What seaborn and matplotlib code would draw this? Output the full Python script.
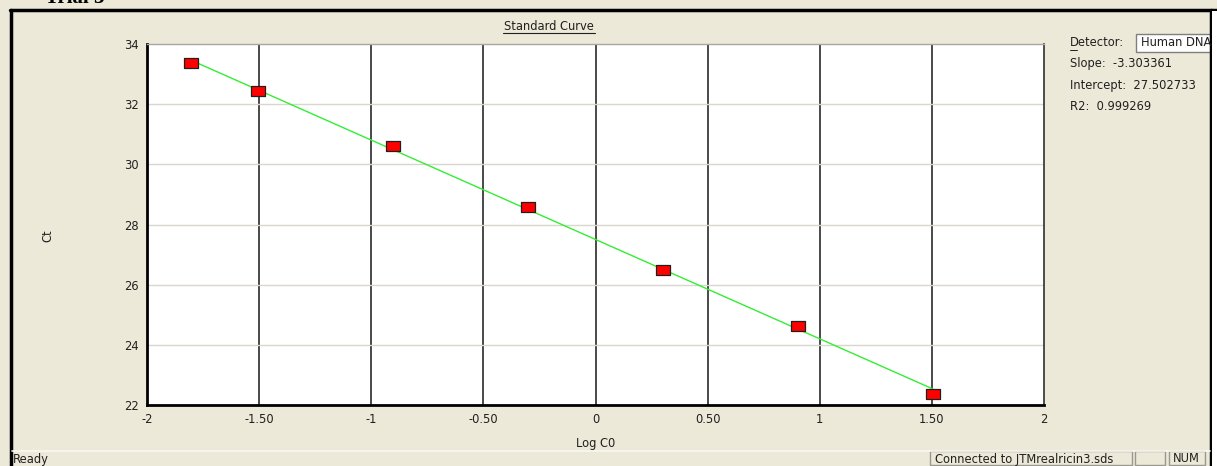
import matplotlib
matplotlib.use("Agg")
import matplotlib.pyplot as plt
import seaborn as sns
import numpy as np
import pandas as pd
from matplotlib.patches import Rectangle
from matplotlib.lines import Line2D

# ---- data ----
log_c0 = [-1.806, -1.505, -0.903, -0.301, 0.301, 0.903, 1.505]
ct_values = [33.37, 32.44, 30.61, 28.58, 26.49, 24.62, 22.37]
slope = -3.303361
intercept = 27.502733
r2 = 0.999269
x_ticks = [-2, -1.5, -1, -0.5, 0, 0.5, 1, 1.5, 2]
x_tick_labels = ["-2", "-1.50", "-1", "-0.50", "0", "0.50", "1", "1.50", "2"]
y_ticks = [22, 24, 26, 28, 30, 32, 34]

BG = "#ECE9D8"
FS = 8.3
sns.set_theme(style="white")
plt.rcParams['font.family'] = ['DejaVu Sans']

fig = plt.figure(figsize=(12.17, 4.66), dpi=100, facecolor=BG)
ax = fig.add_axes([147/1217, 1-405/466, (1044-147)/1217, (405-44)/466])
ax.set_facecolor("white")

pts = pd.DataFrame({"x": log_c0, "y": ct_values})
fit_x = [min(log_c0), max(log_c0)]
fit = pd.DataFrame({"x": fit_x, "y": [slope * v + intercept for v in fit_x]})

# grid
for v in x_ticks[1:-1]:
    ax.axvline(v, color="#3a3a3a", lw=1.3, zorder=1)
for v in y_ticks[1:-1]:
    ax.axhline(v, color="#d9d6cd", lw=1.0, zorder=1)

sns.lineplot(data=fit, x="x", y="y", ax=ax, color="#33ee33", lw=1.0, zorder=3)
rect = [(-1.5, -1), (1.5, -1), (1.5, 1), (-1.5, 1), (-1.5, -1)]
sns.scatterplot(data=pts, x="x", y="y", ax=ax, marker=rect, s=110,
                color="#ff0000", edgecolor="#202020", linewidth=0.9, zorder=4)

ax.set_xlim(-2, 2)
ax.set_ylim(22, 34)
ax.set_xticks(x_ticks)
ax.set_xticklabels(x_tick_labels)
ax.set_yticks(y_ticks)
ax.tick_params(length=0, labelsize=FS, colors="#202020", pad=6)
ax.set_xlabel("")
ax.set_ylabel("")
ax.grid(False)
for side, sp in ax.spines.items():
    sp.set_visible(True)
ax.spines["left"].set_color("black"); ax.spines["left"].set_linewidth(2)
ax.spines["bottom"].set_color("black"); ax.spines["bottom"].set_linewidth(2)
ax.spines["top"].set_color("#a8a69e"); ax.spines["top"].set_linewidth(1)
ax.spines["right"].set_color("#303030"); ax.spines["right"].set_linewidth(1.2)

def px(x, y):
    return x / 1217, 1 - y / 466

# axis labels
fig.text(*px(596, 443), "Log C0", fontsize=FS, ha="center", va="center", color="#202020")
fig.text(*px(48, 236), "Ct", fontsize=FS, rotation=90, ha="center", va="center", color="#202020")

# title underlined
fig.text(*px(549, 27), "Standard Curve", fontsize=FS, ha="center", va="center", color="#202020")
fig.add_artist(Line2D([503/1217, 595/1217], [1-33/466, 1-33/466], color="#202020", lw=0.8))

# partially visible heading above frame
fig.text(*px(45, -2), "Trial 3", fontsize=15, fontweight="bold", family="Liberation Serif",
         ha="left", va="center", color="black")

# outer black frame
fig.add_artist(Line2D([10/1217, 1217/1217], [1-10/466, 1-10/466], color="black", lw=2.5))
fig.add_artist(Line2D([11/1217, 11/1217], [0, 1-10/466], color="black", lw=2.5))
fig.add_artist(Line2D([1211/1217, 1211/1217], [0, 1-10/466], color="black", lw=2.5))

# right info panel
fig.text(*px(1070, 43), "Detector:", fontsize=FS, ha="left", va="center", color="#202020")
fig.add_artist(Line2D([1070/1217, 1077/1217], [1-50/466, 1-50/466], color="#202020", lw=0.7))
fig.add_artist(Rectangle((1136/1217, 1-52/466), 80/1217, 18/466, transform=fig.transFigure,
                         facecolor="white", edgecolor="#7f7f7f", lw=1))
fig.text(*px(1141, 43), "Human DNA", fontsize=FS, ha="left", va="center", color="#202020")
fig.text(*px(1070, 64), "Slope:  -3.303361", fontsize=FS, ha="left", va="center", color="#202020")
fig.text(*px(1070, 86), "Intercept:  27.502733", fontsize=FS, ha="left", va="center", color="#202020")
fig.text(*px(1070, 107), f"R2:  {r2:.6f}", fontsize=FS, ha="left", va="center", color="#202020")
# cover overflow past the right frame
fig.add_artist(Rectangle((1212/1217, 0), 5/1217, 1-11/466, transform=fig.transFigure,
                         facecolor="white", edgecolor="none", zorder=5))

# status bar
fig.add_artist(Line2D([12/1217, 1210/1217], [1-451/466, 1-451/466], color="#f8f7f2", lw=1.2))
fig.text(*px(13, 459), "Ready", fontsize=FS, ha="left", va="center", color="#202020")
fig.add_artist(Rectangle((930/1217, 1/466), 202/1217, 14/466, transform=fig.transFigure,
                         facecolor="none", edgecolor="#9a988f", lw=1))
fig.text(*px(935, 459), "Connected to JTMrealricin3.sds", fontsize=FS, ha="left", va="center", color="#202020")
fig.add_artist(Rectangle((1135/1217, 1/466), 30/1217, 14/466, transform=fig.transFigure,
                         facecolor="none", edgecolor="#9a988f", lw=1))
fig.add_artist(Rectangle((1169/1217, 1/466), 36/1217, 14/466, transform=fig.transFigure,
                         facecolor="none", edgecolor="#9a988f", lw=1))
fig.text(*px(1173, 459), "NUM", fontsize=FS, ha="left", va="center", color="#202020")

fig.savefig("out.png", dpi=100, facecolor=BG)
